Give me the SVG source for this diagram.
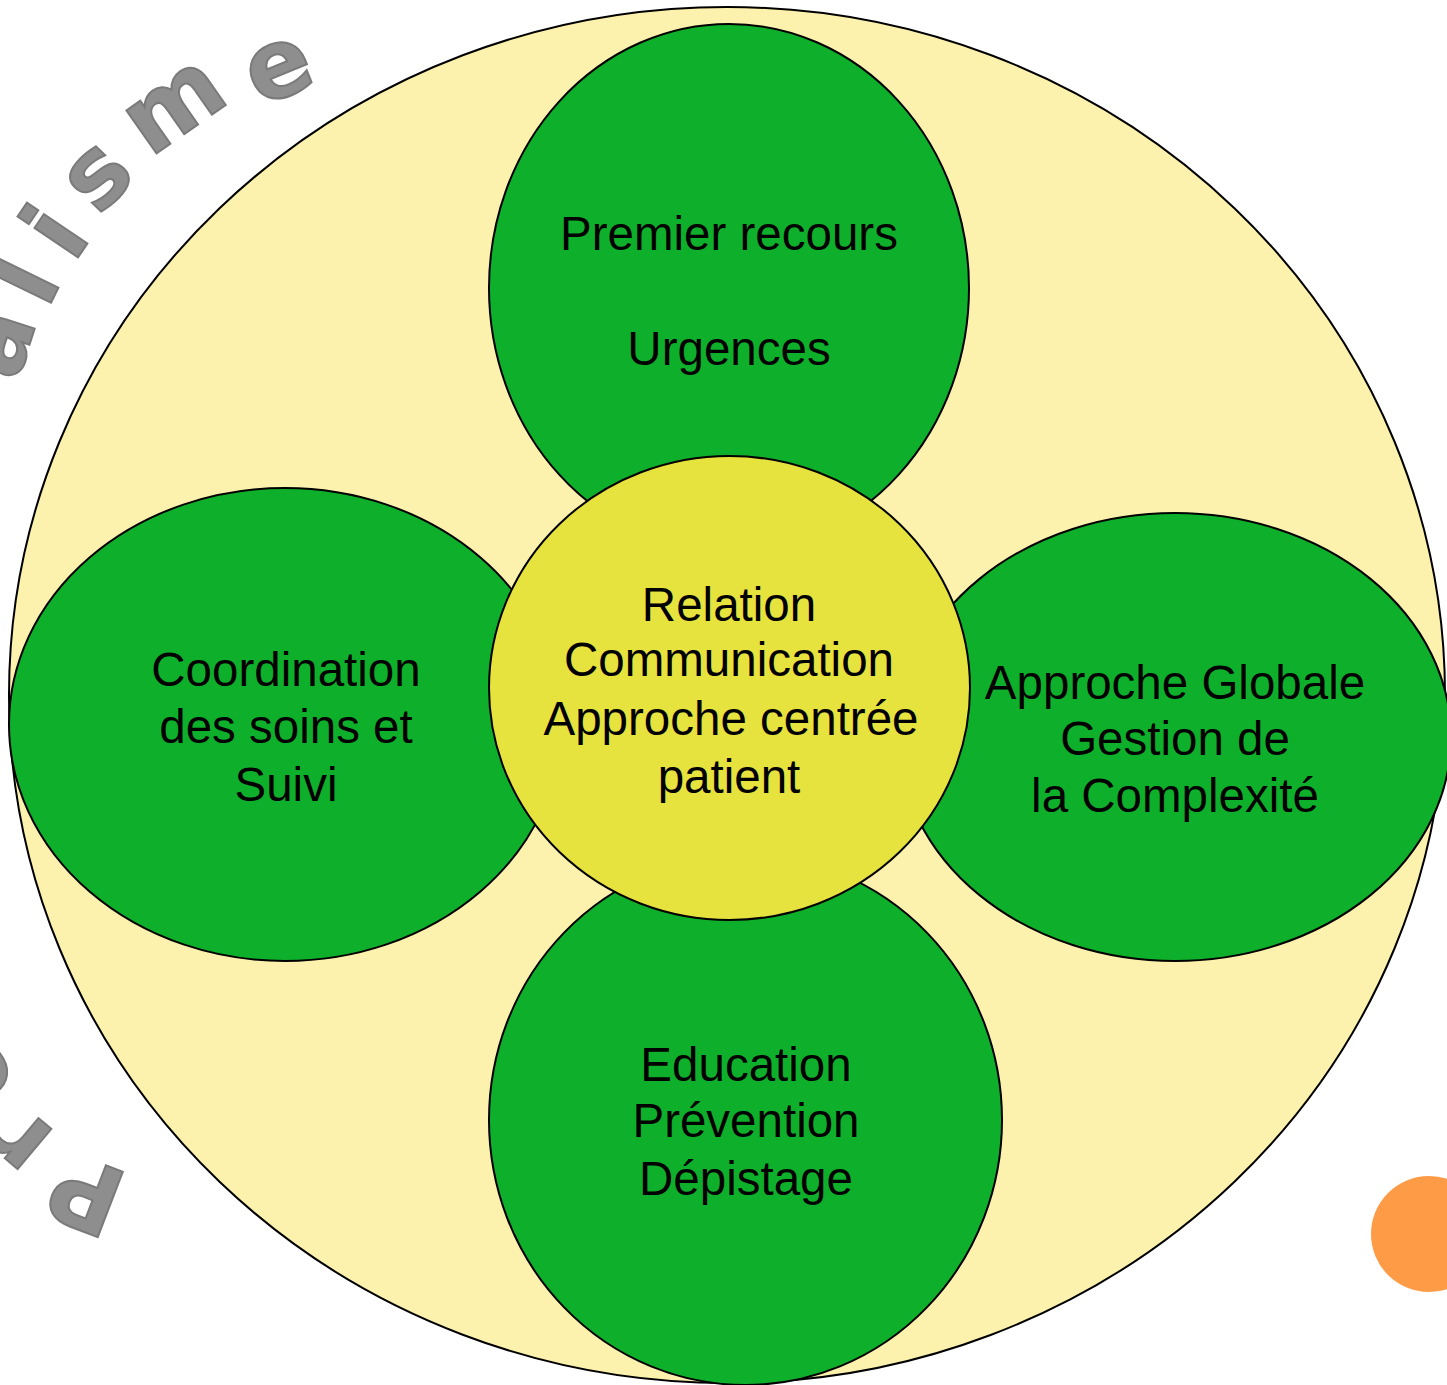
<svg xmlns="http://www.w3.org/2000/svg" width="1447" height="1385" viewBox="0 0 1447 1385">
<style>
.shape{stroke:#000;stroke-width:2}
.green{fill:#0eb02b}
.lbl{font-family:"Liberation Sans",Arial,sans-serif;font-size:47.5px;fill:#000;text-anchor:middle}
.arc{font-family:"DejaVu Sans",Verdana,sans-serif;font-weight:bold;font-size:96px;fill:#8e8e8e;stroke:#7a7a7a;stroke-width:2}
</style>
<rect width="1447" height="1385" fill="#ffffff"/>
<g id="title-arc">
<text class="arc" x="131 57.6 19 -400 -400 -400 -400 -400 -400 -400 -400" y="1175 1134 1080 1120 1120 1120 1120 1120 1120 1120 1120" rotate="201 220 232 0 0 0 0 0 0 0 0">Professionn</text>
<text class="arc" x="17 47.6 73.5 98.5 150 259" y="383 310 264 217 158 107" rotate="-72 -64 -56 -46 -35 -22">alisme</text>
</g>
<g id="outer">
<ellipse class="shape" cx="727" cy="695" rx="718" ry="688" fill="#fdf2ad"/>
</g>
<g id="node-top">
<ellipse class="shape green" cx="729" cy="288" rx="240" ry="264"/>
<text class="lbl" x="729" y="250">Premier recours</text>
<text class="lbl" x="729" y="365">Urgences</text>
</g>
<g id="node-left">
<ellipse class="shape green" cx="285" cy="724.5" rx="276" ry="236.5"/>
<text class="lbl" x="286" y="686">Coordination</text>
<text class="lbl" x="286" y="743">des soins et</text>
<text class="lbl" x="286" y="801">Suivi</text>
</g>
<g id="node-right">
<ellipse class="shape green" cx="1175" cy="737" rx="276" ry="224"/>
<text class="lbl" x="1175" y="699">Approche Globale</text>
<text class="lbl" x="1175" y="755">Gestion de</text>
<text class="lbl" x="1175" y="812">la Complexité</text>
</g>
<g id="node-bottom">
<ellipse class="shape green" cx="745.5" cy="1120" rx="256.5" ry="265"/>
<text class="lbl" x="746" y="1081">Education</text>
<text class="lbl" x="746" y="1137">Prévention</text>
<text class="lbl" x="746" y="1195">Dépistage</text>
</g>
<g id="node-center">
<ellipse class="shape" cx="729.5" cy="688" rx="240.5" ry="232" fill="#e6e23e"/>
<text class="lbl" x="729" y="621">Relation</text>
<text class="lbl" x="729" y="676">Communication</text>
<text class="lbl" x="731" y="735">Approche centrée</text>
<text class="lbl" x="729" y="793">patient</text>
</g>
<g id="accent">
<circle cx="1429" cy="1234" r="58" fill="#fd9b47"/>
</g>
<g id="connectors"/>
</svg>
